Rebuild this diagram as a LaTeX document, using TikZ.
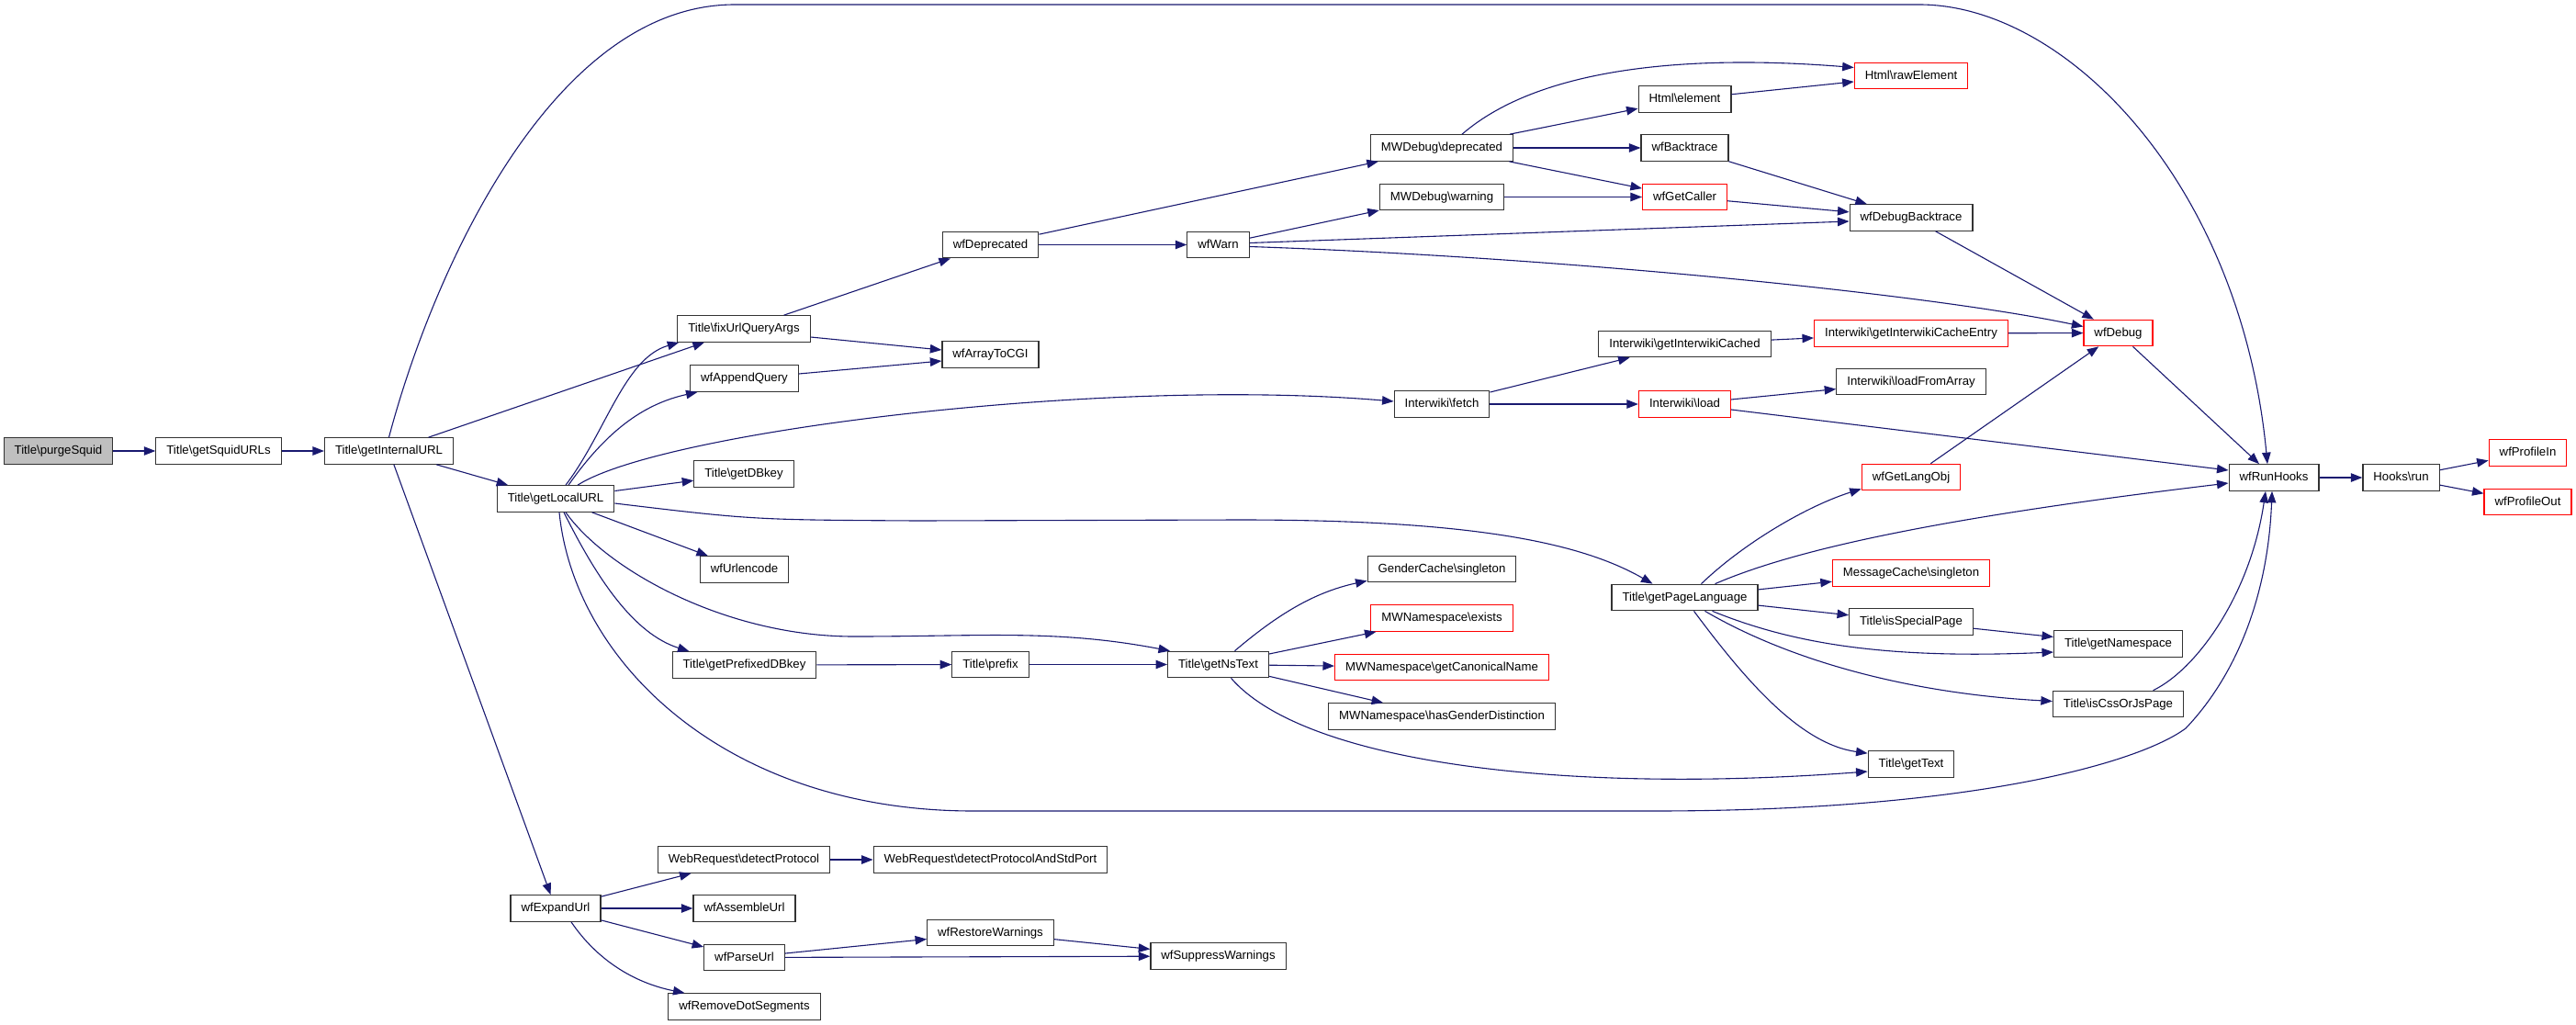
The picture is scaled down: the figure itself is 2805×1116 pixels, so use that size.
\documentclass[tikz,border=0pt]{standalone}
\usepackage{fontspec}
\setmainfont{Liberation Sans}
\usepackage{tikz}
\usetikzlibrary{arrows.meta}
\definecolor{navy}{RGB}{25,25,112}
\newcommand{\bsl}{\textbackslash}

\begin{document}
\begin{tikzpicture}[x=1pt, y=-1pt,
  fnbox/.style={rectangle, draw=black!80, line width=1.2pt, minimum height=28.5pt, inner xsep=11.5pt, inner ysep=0pt, text height=9.6pt, text depth=2.6pt, font=\fontsize{13.2}{15}\selectfont},
  extbox/.style={fnbox, draw=red},
  call/.style={draw=navy, line width=1.1pt, -{Triangle[length=12.5pt,width=9.5pt]}}]
  \useasboundingbox (0,0) rectangle (2805,1116);

  \node[fnbox, fill=black!25] (purge) at (63.5,491) {Title\bsl purgeSquid};
  \node[fnbox] (squid) at (238,491) {Title\bsl getSquidURLs};
  \node[fnbox] (internal) at (423.5,491) {Title\bsl getInternalURL};
  \node[fnbox] (localurl) at (605,543) {Title\bsl getLocalURL};
  \node[fnbox] (expand) at (605,989) {wfExpandUrl};

  \node[fnbox] (fixurl) at (810,358) {Title\bsl fixUrlQueryArgs};
  \node[fnbox] (appendq) at (810.5,412) {wfAppendQuery};
  \node[fnbox] (dbkey) at (810,516) {Title\bsl getDBkey};
  \node[fnbox] (urlenc) at (810.5,620) {wfUrlencode};
  \node[fnbox] (prefixed) at (810.5,724) {Title\bsl getPrefixedDBkey};
  \node[fnbox] (detproto) at (810,936) {WebRequest\bsl detectProtocol};
  \node[fnbox] (assemble) at (810.5,989) {wfAssembleUrl};
  \node[fnbox] (parse) at (810.5,1042.5) {wfParseUrl};
  \node[fnbox] (removedot) at (810.5,1096) {wfRemoveDotSegments};

  \node[fnbox] (deprec) at (1078.5,266.5) {wfDeprecated};
  \node[fnbox] (cgi) at (1078.5,386) {wfArrayToCGI};
  \node[fnbox] (prefix) at (1078.5,723.5) {Title\bsl prefix};
  \node[fnbox] (detport) at (1078.5,936) {WebRequest\bsl detectProtocolAndStdPort};
  \node[fnbox] (restore) at (1078.5,1015.5) {wfRestoreWarnings};

  \node[fnbox] (warn) at (1326.5,266.5) {wfWarn};
  \node[fnbox] (nstext) at (1326.5,723.5) {Title\bsl getNsText};
  \node[fnbox] (suppress) at (1326.5,1041) {wfSuppressWarnings};

  \node[fnbox] (mwdep) at (1570,161) {MWDebug\bsl deprecated};
  \node[fnbox] (mwwarn) at (1570,214.5) {MWDebug\bsl warning};
  \node[fnbox] (fetch) at (1570,440) {Interwiki\bsl fetch};
  \node[fnbox] (gender) at (1570,619.5) {GenderCache\bsl singleton};
  \node[extbox] (nsexists) at (1570,673) {MWNamespace\bsl exists};
  \node[extbox] (canon) at (1570,726.5) {MWNamespace\bsl getCanonicalName};
  \node[fnbox] (genderdist) at (1570,780) {MWNamespace\bsl hasGenderDistinction};

  \node[fnbox] (htmlel) at (1834.5,108) {Html\bsl element};
  \node[fnbox] (backtr) at (1834.5,161) {wfBacktrace};
  \node[extbox] (caller) at (1834.5,214.5) {wfGetCaller};
  \node[fnbox] (iwcached) at (1834.5,374.5) {Interwiki\bsl getInterwikiCached};
  \node[extbox] (iwload) at (1834.5,440) {Interwiki\bsl load};
  \node[fnbox] (pagelang) at (1834.5,650.5) {Title\bsl getPageLanguage};

  \node[extbox] (rawel) at (2081,82.5) {Html\bsl rawElement};
  \node[fnbox] (dbgbt) at (2081,237) {wfDebugBacktrace};
  \node[extbox] (iwentry) at (2081,363) {Interwiki\bsl getInterwikiCacheEntry};
  \node[fnbox] (loadarr) at (2081,415.5) {Interwiki\bsl loadFromArray};
  \node[extbox] (langobj) at (2081,519.5) {wfGetLangObj};
  \node[extbox] (msgcache) at (2081,624) {MessageCache\bsl singleton};
  \node[fnbox] (special) at (2081,677) {Title\bsl isSpecialPage};
  \node[fnbox] (gettext) at (2081,832) {Title\bsl getText};

  \node[extbox] (wfdebug) at (2306.5,362.5) {wfDebug};
  \node[fnbox] (getns) at (2306.5,701) {Title\bsl getNamespace};
  \node[fnbox] (cssjs) at (2306.5,766.5) {Title\bsl isCssOrJsPage};

  \node[fnbox] (runhooks) at (2476,520) {wfRunHooks};
  \node[fnbox] (hooksrun) at (2614.5,520) {Hooks\bsl run};
  \node[extbox] (profin) at (2752.5,493) {wfProfileIn};
  \node[extbox] (profout) at (2752.5,546.5) {wfProfileOut};

  \draw[call] (purge) -- (squid);
  \draw[call] (squid) -- (internal);
  \draw[call] (internal) -- (fixurl);
  \draw[call] (internal) -- (localurl);
  \draw[call] (internal) -- (expand);
  \draw[call] (internal.north) .. controls (470,300) and (600,5) .. (800,5) -- (2090,5)
    .. controls (2250,5) and (2440,200) .. ([xshift=-7pt]runhooks.north);

  \draw[call] ([xshift=11pt]localurl.north) .. controls (660,470) and (680,390) .. ([xshift=2pt]fixurl.south west);
  \draw[call] ([xshift=14pt]localurl.north) .. controls (660,470) and (700,440) .. ([xshift=-51pt]appendq.south);
  \draw[call] ([xshift=24pt]localurl.north) .. controls (720,470) and (1200,410) .. ([yshift=3pt]fetch.west);
  \draw[call] (localurl) -- (dbkey);
  \draw[call] ([yshift=-5pt]localurl.east) .. controls (820,566) .. (1000,567) -- (1350,566)
    .. controls (1600,566) and (1720,590) .. ([xshift=-35pt]pagelang.north);
  \draw[call] (localurl) -- (urlenc);
  \draw[call] ([xshift=11pt]localurl.south) .. controls (660,620) and (790,693) .. (930,693)
    .. controls (1070,693) and (1150,685) .. ([xshift=3pt]nstext.north west);
  \draw[call] ([xshift=9pt]localurl.south) .. controls (650,630) and (690,690) .. ([xshift=-60pt]prefixed.north);
  \draw[call] ([xshift=4pt]localurl.south) .. controls (625,720) and (790,883) .. (1060,883) -- (1800,883)
    .. controls (2150,883) and (2330,830) .. (2380,793)
    .. controls (2440,730) and (2470,640) .. ([xshift=-2pt]runhooks.south);

  \draw[call] (fixurl) -- (deprec);
  \draw[call] ([yshift=-9pt]fixurl.east) -- ([yshift=5pt]cgi.west);
  \draw[call] ([yshift=5pt]appendq.east) -- ([yshift=-7pt]cgi.west);
  \draw[call] (deprec) -- (mwdep);
  \draw[call] (deprec) -- (warn);
  \draw[call] (warn) -- (mwwarn);
  \draw[call] ([yshift=2pt]warn.east) -- ([yshift=-4pt]dbgbt.west);
  \draw[call] ([yshift=-2pt]warn.east) .. controls (1700,280) and (2100,320) .. ([yshift=7pt]wfdebug.west);

  \draw[call] ([xshift=22pt]mwdep.north) .. controls (1680,70) and (1850,60) .. ([yshift=9pt]rawel.west);
  \draw[call] (mwdep) -- (htmlel);
  \draw[call] (mwdep) -- (backtr);
  \draw[call] (mwdep) -- (caller);
  \draw[call] (mwwarn) -- (caller);
  \draw[call] (htmlel) -- (rawel);
  \draw[call] (backtr) -- (dbgbt);
  \draw[call] (caller) -- (dbgbt);
  \draw[call] (dbgbt) -- (wfdebug);
  \draw[call] (wfdebug) -- (runhooks);

  \draw[call] (fetch) -- (iwcached);
  \draw[call] (fetch) -- (iwload);
  \draw[call] (iwcached) -- (iwentry);
  \draw[call] (iwentry) -- (wfdebug);
  \draw[call] (iwload) -- (loadarr);
  \draw[call] ([yshift=-6pt]iwload.east) -- ([yshift=8pt]runhooks.west);
  \draw[call] (langobj) -- (wfdebug);

  \draw[call] ([xshift=18pt]pagelang.north) .. controls (1900,590) and (1970,550) .. ([yshift=2pt]langobj.south west);
  \draw[call] ([xshift=33pt]pagelang.north) .. controls (1950,600) and (2100,565) .. ([yshift=-6pt]runhooks.west);
  \draw[call] (pagelang) -- (msgcache);
  \draw[call] (pagelang) -- (special);
  \draw[call] ([xshift=30pt]pagelang.south) .. controls (1950,700) and (2050,718) .. ([yshift=-9pt]getns.west);
  \draw[call] ([xshift=22pt]pagelang.south) .. controls (1950,720) and (2080,755) .. ([yshift=3pt]cssjs.west);
  \draw[call] ([xshift=10pt]pagelang.south) .. controls (1900,740) and (1960,810) .. ([yshift=-3pt]gettext.north west);
  \draw[call] (special) -- (getns);
  \draw[call] ([xshift=38pt]cssjs.north) .. controls (2390,730) and (2450,650) .. ([xshift=-9pt]runhooks.south);

  \draw[call] ([xshift=18pt]nstext.north) .. controls (1390,670) and (1430,645) .. ([yshift=2pt]gender.south west);
  \draw[call] (nstext) -- (nsexists);
  \draw[call] (nstext) -- (canon);
  \draw[call] (nstext) -- (genderdist);
  \draw[call] ([xshift=14pt]nstext.south) .. controls (1420,830) and (1700,865) .. ([yshift=-8pt]gettext.west);
  \draw[call] (prefixed) -- (prefix);
  \draw[call] (prefix) -- (nstext);

  \draw[call] (runhooks) -- (hooksrun);
  \draw[call] (hooksrun) -- (profin);
  \draw[call] (hooksrun) -- (profout);

  \draw[call] (expand) -- (detproto);
  \draw[call] (expand) -- (assemble);
  \draw[call] (expand) -- (parse);
  \draw[call] ([xshift=17pt]expand.south) .. controls (650,1045) and (690,1070) .. ([xshift=-65pt]removedot.north);
  \draw[call] (detproto) -- (detport);
  \draw[call] (parse) -- (restore);
  \draw[call] (parse) -- (suppress);
  \draw[call] (restore) -- (suppress);
\end{tikzpicture}
\end{document}
